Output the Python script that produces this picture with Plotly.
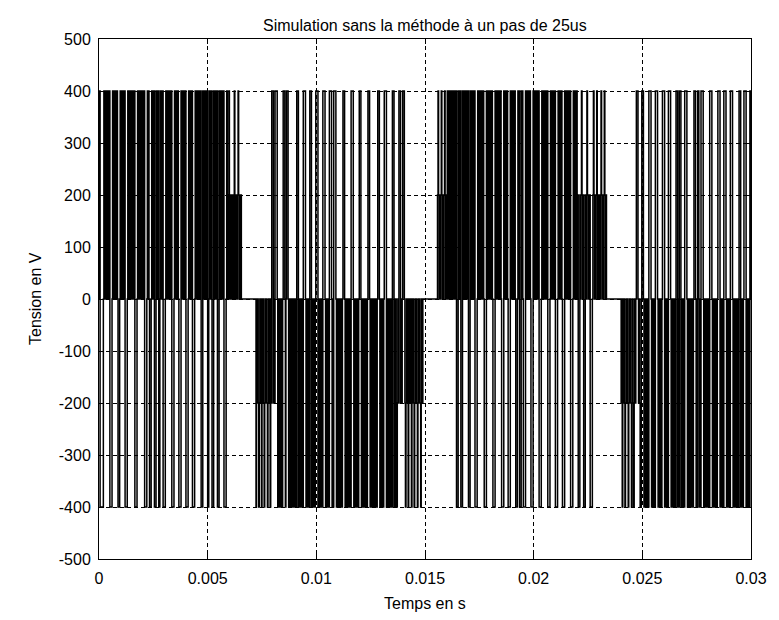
import numpy as np
import plotly.graph_objects as go

# Simulation time base (ms)
STEP_MS = 0.025          # 25 us integration step
T_END_MS = 30.0

# Dense switching intervals: the voltage toggles between two levels every step
seg_start = [0.00, 5.90, 7.19, 8.15, 13.65, 15.53, 16.00, 22.00, 24.00, 24.90]
seg_end   = [5.90, 6.56, 8.15, 13.65, 14.89, 16.00, 22.00, 23.37, 24.90, 30.00]
seg_low   = [0, 0, 0, 0, 0, 0, 0, 0, 0, 0]
seg_high  = [400, 200, -200, -400, -200, 200, 400, 200, -200, -400]

# Narrow pulses down to -400 V (start / end, ms)
neg_on = [0.05, 0.50, 0.86, 1.18, 1.64, 2.08, 2.32, 2.55, 2.73, 2.95, 3.33, 3.66,
          4.00, 4.30, 4.68, 4.98, 5.18, 5.44, 5.75,
          7.22, 7.33, 7.47, 7.59, 7.73, 7.86,
          13.70, 14.10, 14.22, 14.36, 14.50, 14.64, 14.78,
          16.44, 16.64, 16.98, 17.30, 17.71, 18.12, 18.51, 18.81, 19.17, 19.35,
          19.52, 19.87, 20.25, 20.63, 20.98, 21.32, 21.70, 22.04, 22.29, 22.60,
          24.06, 24.18, 24.33, 24.48, 24.60, 24.88]
neg_off = [0.20, 0.58, 0.95, 1.30, 1.74, 2.18, 2.40, 2.62, 2.80, 3.03, 3.43, 3.76,
           4.09, 4.40, 4.76, 5.05, 5.26, 5.52, 5.83,
           7.245, 7.355, 7.495, 7.615, 7.755, 7.885,
           13.725, 14.125, 14.245, 14.385, 14.525, 14.665, 14.805,
           16.52, 16.72, 17.06, 17.40, 17.81, 18.21, 18.61, 18.91, 19.25, 19.42,
           19.62, 19.97, 20.35, 20.73, 21.08, 21.42, 21.80, 22.12, 22.37, 22.68,
           24.085, 24.205, 24.355, 24.505, 24.625, 24.905]

# Narrow pulses up to +400 V (start / end, ms)
pos_on = [5.96, 6.22, 6.40,
          7.94, 8.10, 8.47, 8.62, 9.09, 9.39, 9.69, 9.97, 10.30, 10.60, 10.78,
          11.21, 11.60, 11.97, 12.36, 12.81, 13.12, 13.48, 13.79, 13.96,
          15.60, 15.75, 15.90,
          22.20, 22.45, 22.75, 22.90, 23.10, 23.25,
          24.71, 24.97, 25.30, 25.58, 25.91, 26.19, 26.53, 26.69, 26.94, 27.37,
          27.53, 27.70, 28.08, 28.46, 28.74, 29.05, 29.43, 29.67, 29.95]
pos_off = [5.985, 6.245, 6.425,
           8.01, 8.20, 8.55, 8.70, 9.17, 9.48, 9.76, 10.07, 10.38, 10.68, 10.88,
           11.29, 11.70, 12.05, 12.44, 12.90, 13.22, 13.56, 13.87, 14.03,
           15.625, 15.775, 15.925,
           22.225, 22.475, 22.775, 22.925, 23.125, 23.275,
           24.79, 25.04, 25.40, 25.68, 26.01, 26.28, 26.61, 26.76, 27.04, 27.45,
           27.60, 27.80, 28.18, 28.56, 28.83, 29.14, 29.51, 29.77, 30.00]

x_ticks = [0, 0.005, 0.01, 0.015, 0.02, 0.025, 0.03]
x_tick_text = ["0", "0.005", "0.01", "0.015", "0.02", "0.025", "0.03"]
y_ticks = [-500, -400, -300, -200, -100, 0, 100, 200, 300, 400, 500]
y_tick_text = [str(v) for v in y_ticks]

# Sampled output voltage
n = int(round(T_END_MS / STEP_MS)) + 1
k = np.arange(n)
t_ms = k * STEP_MS
v = np.zeros(n)
for a, b, lo, hi in zip(seg_start, seg_end, seg_low, seg_high):
    m = (t_ms >= a - 1e-9) & (t_ms < b - 1e-9)
    v[m] = np.where(k[m] % 2 == 0, lo, hi)
for a, b in zip(neg_on, neg_off):
    v[(t_ms >= a - 1e-9) & (t_ms < b - 1e-9)] = -400
for a, b in zip(pos_on, pos_off):
    v[(t_ms >= a - 1e-9) & (t_ms < b - 1e-9)] = 400

fig = go.Figure()
fig.add_trace(go.Scatter(
    x=t_ms / 1000.0, y=v, mode="lines",
    line=dict(color="black", width=1.5, shape="hv"),
    hoverinfo="skip", showlegend=False,
))

font_family = "Liberation Sans, Arial, sans-serif"
axis_common = dict(
    showgrid=True, gridcolor="black", gridwidth=1, griddash="4px,3px",
    zeroline=False, showline=True, linecolor="black", linewidth=1,
    mirror="ticks", ticks="inside", ticklen=5, tickcolor="black",
    tickfont=dict(family=font_family, size=16, color="black"),
)
fig.update_layout(
    width=779, height=620,
    margin=dict(l=99, r=21, t=39, b=61),
    paper_bgcolor="white", plot_bgcolor="white",
    xaxis=dict(range=[0, 0.03], tickmode="array", tickvals=x_ticks,
               ticktext=x_tick_text, ticklabelstandoff=5, **axis_common),
    yaxis=dict(range=[-500, 500], tickmode="array", tickvals=y_ticks,
               ticktext=y_tick_text, ticklabelstandoff=4, **axis_common),
    annotations=[
        dict(text="Simulation sans la méthode à un pas de 25us", xref="paper", yref="paper",
             x=0.5, y=1, yanchor="middle", yshift=14, showarrow=False,
             font=dict(family=font_family, size=16, color="black")),
        dict(text="Temps en s", xref="paper", yref="paper", x=0.5, y=0,
             yanchor="middle", yshift=-44, showarrow=False,
             font=dict(family=font_family, size=16, color="black")),
        dict(text="Tension en V", xref="paper", yref="paper", x=0, y=0.5,
             xanchor="center", xshift=-64, textangle=-90, showarrow=False,
             font=dict(family=font_family, size=16, color="black")),
    ],
)

fig.write_html("out.html")
